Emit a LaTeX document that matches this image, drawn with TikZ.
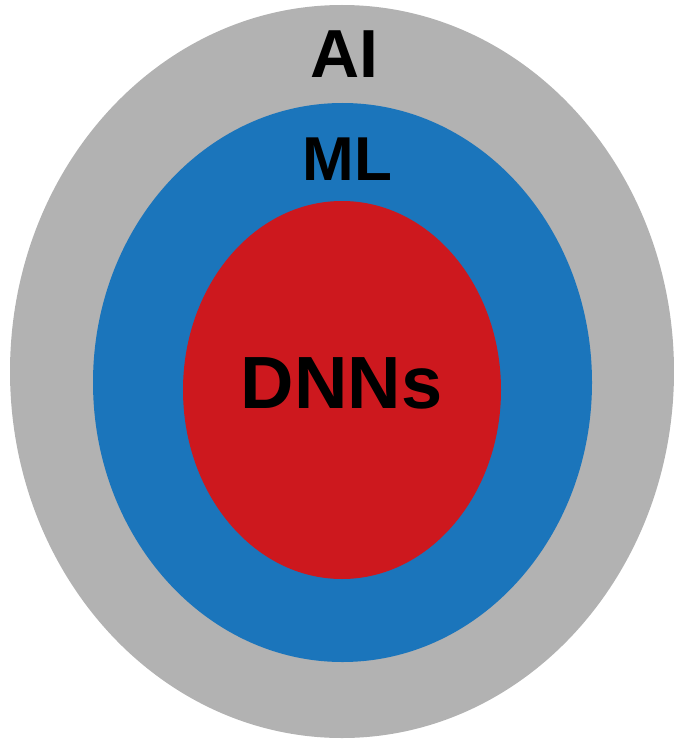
\documentclass[tikz,border=0pt]{standalone}
\usepackage{fontspec}
\setmainfont{Liberation Sans}
\definecolor{aigray}{RGB}{178,178,178}
\definecolor{mlblue}{RGB}{27,117,187}
\definecolor{dnnred}{RGB}{205,24,30}
\begin{document}
\begin{tikzpicture}[x=1pt,y=-1pt,
  lbl/.style={anchor=base,inner sep=0pt,font=\bfseries}]
\useasboundingbox (0,0) rectangle (673,741);
\fill[aigray] (342,371.5) ellipse [x radius=332, y radius=366.5];
\fill[mlblue] (342.5,382.5) ellipse [x radius=249.5, y radius=279.5];
\fill[dnnred] (342,390) ellipse [x radius=159, y radius=189];
\node[lbl,font=\bfseries\fontsize{68}{68}\selectfont] (ai) at (344,78) {AI};
\node[lbl,font=\bfseries\fontsize{62}{62}\selectfont] (ml) at (347.5,180) {ML};
\node[lbl,font=\bfseries\fontsize{74}{74}\selectfont] (dnn) at (341.5,408) {DNNs};
\end{tikzpicture}
\end{document}
